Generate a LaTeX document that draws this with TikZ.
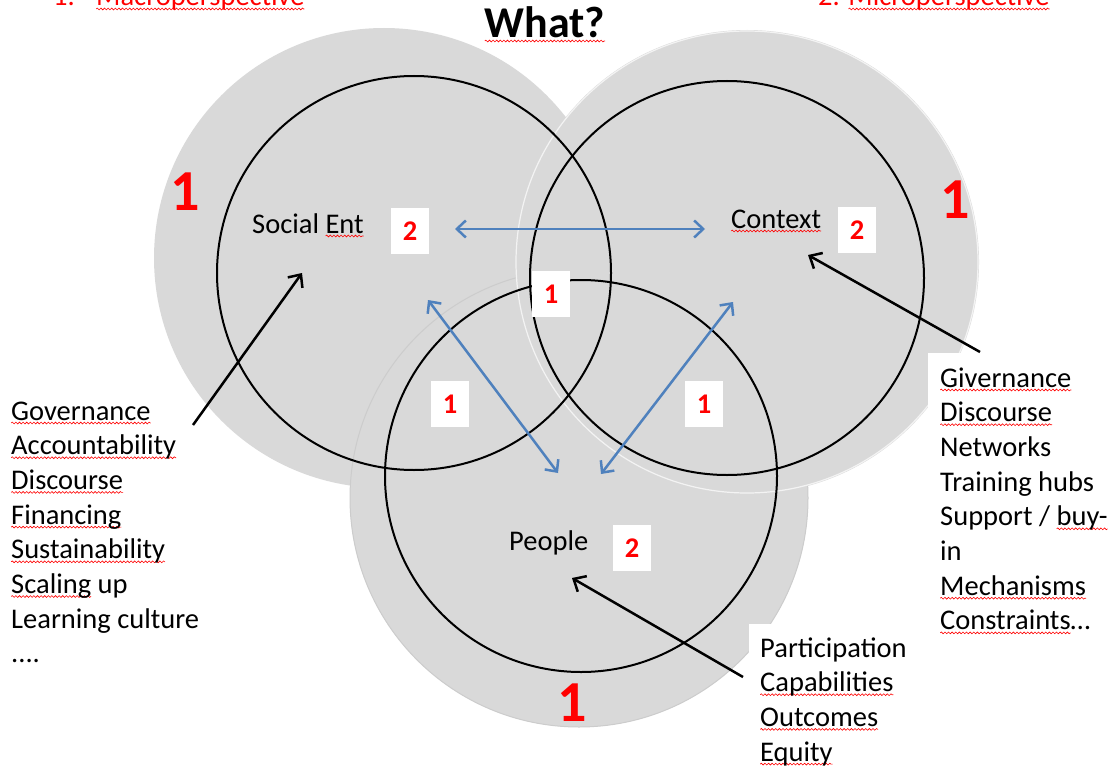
\documentclass[tikz,border=0pt]{standalone}
\usepackage{fontspec}
\setmainfont{Carlito}
\usetikzlibrary{arrows.meta,decorations.pathmorphing}
\definecolor{circgrey}{RGB}{217,217,217}
\definecolor{greyedge}{RGB}{204,204,204}
\definecolor{arrowblue}{RGB}{79,129,189}
\definecolor{labelred}{RGB}{255,0,0}
\newsavebox{\sqbox}
\newcommand\sq[1]{\sbox{\sqbox}{#1}\rlap{\tikz[baseline=0pt]{\path (0pt,0pt) (\wd\sqbox,0pt); \draw[overlay, red, line width=0.6pt, decorate, decoration={snake, amplitude=0.9pt, segment length=3.6pt}] (0pt,-3pt) -- (\wd\sqbox,-3pt);}}\usebox{\sqbox}}
\begin{document}
\begin{tikzpicture}[x=1pt,y=-1pt,
  greydisc/.style={fill=circgrey, draw=none},
  ring/.style={draw=black, line width=2pt},
  bluearrow/.style={draw=arrowblue, line width=2.5pt, {Straight Barb[length=9pt,width=17pt]}-{Straight Barb[length=9pt,width=17pt]}},
  blackarrow/.style={draw=black, line width=2.5pt, -{Straight Barb[length=10pt,width=18pt]}},
  circlabel/.style={font=\fontsize{28.5}{34.7}\selectfont, text=black, inner sep=0pt, anchor=base west},
  numbox/.style={fill=white, minimum width=38pt, minimum height=46pt, inner sep=0pt, text=labelred, font=\fontsize{28.5}{34.7}\selectfont\bfseries},
  bignum/.style={text=labelred, font=\fontsize{58}{60}\selectfont\bfseries, inner sep=0pt},
  listtext/.style={font=\fontsize{28.5}{34.7}\selectfont, inner sep=0pt, anchor=base west},
  headred/.style={font=\fontsize{28.5}{34.7}\selectfont, text=labelred, inner sep=0pt, anchor=base west}
]
\useasboundingbox (0,0) rectangle (1115,765);
\fill[white] (0,0) rectangle (1115,765);
\clip (0,0) rectangle (1115,765);

% grey discs
\fill[greydisc] (384,258) circle[radius=230];
\filldraw[greydisc, draw=greyedge, line width=1pt] (579,498) circle[radius=229];
\fill[greydisc] (747,262) circle[radius=232];
\draw[white, opacity=0.7, line width=1.2pt] (747,262) circle[radius=231];

% black rings
\draw[ring] (414,273) circle[radius=197];
\draw[ring] (727,278) circle[radius=197];
\draw[ring] (581,476) circle[radius=196];

% white backgrounds of the text lists
\fill[white] (928,353) rectangle (1115,765);
\fill[white] (749,624) rectangle (935,765);

% headings
\node[headred] (h1num) at (53,6) {1.};
\node[headred] (h1) at (96,6) {\sq{Macroperspective}};
\node[headred] (h2) at (818,6) {2. \sq{Microperspective}};
\node[font=\fontsize{44}{48}\selectfont\bfseries, inner sep=0pt, anchor=base] (what) at (545,38) {\sq{What?}};

% circle labels
\node[circlabel] (social) at (252,233) {Social \sq{Ent}};
\node[circlabel] (context) at (731,228) {\sq{Context}};
\node[circlabel] (people) at (509,550) {People};

\node[numbox] (s2) at (410,231) {2};
\node[numbox] (c2) at (857,230) {2};
\node[numbox] (p2) at (632,548) {2};
\node[numbox] (m1) at (551,294) {1};
\node[numbox] (l1) at (450,404) {1};
\node[numbox] (r1) at (704,404) {1};

\node[bignum] (b1) at (185,192) {1};
\node[bignum] (b2) at (955,200) {1};
\node[bignum] (b3) at (572,703) {1};

% left list
\node[listtext] (la) at (11,420) {\sq{Governance}};
\node[listtext] (lb) at (11,454.7) {\sq{Accountability}};
\node[listtext] (lc) at (11,489.4) {\sq{Discourse}};
\node[listtext] (ld) at (11,524.1) {\sq{Financing}};
\node[listtext] (le) at (11,558.8) {\sq{Sustainability}};
\node[listtext] (lf) at (11,593.5) {\sq{Scaling} up};
\node[listtext] (lg) at (11,628.2) {Learning culture};
\node[listtext] (lh) at (11,662.9) {....};

% right list
\node[listtext] (ra) at (940,387) {\sq{Givernance}};
\node[listtext] (rb) at (940,421.7) {\sq{Discourse}};
\node[listtext] (rc) at (940,456.4) {Networks};
\node[listtext] (rd) at (940,491.1) {Training hubs};
\node[listtext] (re) at (940,525.8) {Support / \sq{buy-}};
\node[listtext] (rf) at (940,560.5) {in};
\node[listtext] (rg) at (940,595.2) {\sq{Mechanisms}};
\node[listtext] (rh) at (940,629.9) {\sq{Constraints}…};

% bottom list
\node[listtext] (pa) at (760,657) {Participation};
\node[listtext] (pb) at (760,691.7) {\sq{Capabilities}};
\node[listtext] (pc) at (760,726.4) {\sq{Outcomes}};
\node[listtext] (pd) at (760,761.1) {\sq{Equity}};

% arrow end points
\coordinate (bsL) at (455,229);
\coordinate (bsR) at (705,229);
\coordinate (bdLa) at (428,300);
\coordinate (bdLb) at (558,473);
\coordinate (bdRa) at (733,302);
\coordinate (bdRb) at (601,474);
\coordinate (kLt) at (193,425);
\coordinate (kLh) at (302,273);
\coordinate (kRt) at (980,352);
\coordinate (kRh) at (808,255);
\coordinate (kPt) at (743,677);
\coordinate (kPh) at (572,578);

\draw[bluearrow] (bsL) -- (bsR);
\draw[bluearrow] (bdLa) -- (bdLb);
\draw[bluearrow] (bdRa) -- (bdRb);
\draw[blackarrow] (kLt) -- (kLh);
\draw[blackarrow] (kRt) -- (kRh);
\draw[blackarrow] (kPt) -- (kPh);
\end{tikzpicture}
\end{document}
